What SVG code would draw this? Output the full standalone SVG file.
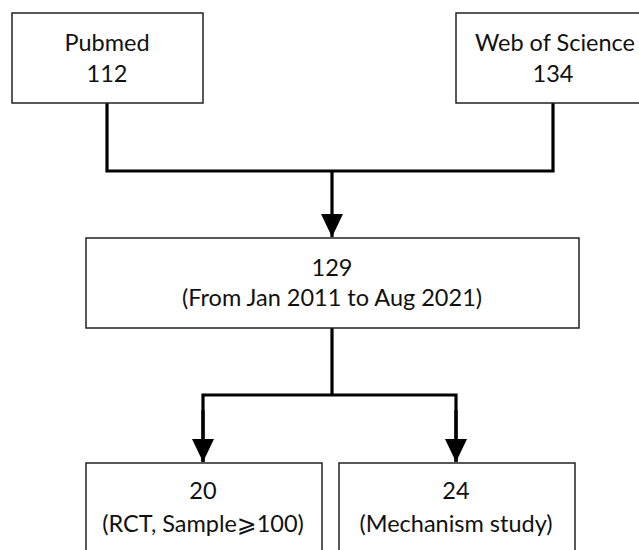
<svg xmlns="http://www.w3.org/2000/svg" width="639" height="550" viewBox="0 0 639 550">
<style>
.box{fill:#fff;stroke:#222;stroke-width:1.5}
.t{font-family:Lato,"Open Sans","DejaVu Sans",sans-serif;font-size:23.5px;fill:#111;text-anchor:middle}
.c{fill:none;stroke:#000;stroke-width:3.2}
.ah{fill:#000}
</style>
<defs>
<marker id="arr" markerUnits="userSpaceOnUse" markerWidth="24" markerHeight="24" viewBox="0 0 24 24" refX="23" refY="12" orient="auto">
<path d="M0,1 L23,12 L0,23 Z" class="ah"/>
</marker>
</defs>
<rect width="639" height="550" fill="#fff"/>
<g id="connectors">
<polyline class="c" points="107,103 107,171 553,171 553,103"/>
<line class="c" x1="332" y1="171" x2="332" y2="237" marker-end="url(#arr)"/>
<line class="c" x1="332" y1="328" x2="332" y2="395"/>
<polyline class="c" points="203,462 203,395 456,395 456,462"/>
<line class="c" x1="203" y1="410" x2="203" y2="462" marker-end="url(#arr)"/>
<line class="c" x1="456" y1="410" x2="456" y2="462" marker-end="url(#arr)"/>
</g>
<g id="pubmed">
<rect class="box" x="12" y="13" width="191" height="90"/>
<text class="t" x="107" y="51">Pubmed</text>
<text class="t" x="107" y="82">112</text>
</g>
<g id="wos">
<rect class="box" x="456" y="13" width="200" height="90"/>
<text class="t" x="555" y="51">Web of Science</text>
<text class="t" x="553" y="82">134</text>
</g>
<g id="merged">
<rect class="box" x="86" y="238" width="493" height="90"/>
<text class="t" x="332" y="276">129</text>
<text class="t" x="332" y="306">(From Jan 2011 to Aug 2021)</text>
</g>
<g id="rct">
<rect class="box" x="86" y="463" width="236" height="100"/>
<text class="t" x="203" y="499">20</text>
<text class="t" x="203" y="532">(RCT, Sample⩾100)</text>
</g>
<g id="mechanism">
<rect class="box" x="339" y="463" width="236" height="100"/>
<text class="t" x="456" y="499">24</text>
<text class="t" x="456" y="532">(Mechanism study)</text>
</g>
</svg>
